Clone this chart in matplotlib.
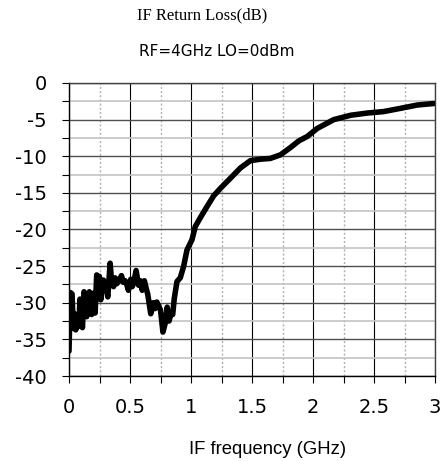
import matplotlib
matplotlib.use('Agg')
import matplotlib.pyplot as plt
from matplotlib.ticker import MultipleLocator

# IF return loss trace (GHz, dB)
freq = [0.0, 0.005, 0.01, 0.025, 0.035, 0.045, 0.055, 0.07, 0.08, 0.09, 0.1,
        0.11, 0.123, 0.135, 0.145, 0.155, 0.167, 0.178, 0.186, 0.193, 0.2, 0.207,
        0.214, 0.227, 0.24, 0.249, 0.26, 0.272, 0.282, 0.292, 0.301, 0.31, 0.318,
        0.337, 0.35, 0.365, 0.378, 0.392, 0.405, 0.418, 0.43, 0.445, 0.46, 0.475,
        0.487, 0.506, 0.518, 0.53, 0.55, 0.57, 0.585, 0.6, 0.618, 0.632, 0.645,
        0.67, 0.69, 0.705, 0.72, 0.75, 0.77, 0.79, 0.805, 0.82, 0.835, 0.85,
        0.863, 0.885, 0.912, 0.94, 0.967, 1.008, 1.035, 1.076, 1.13, 1.186, 1.24,
        1.323, 1.405, 1.487, 1.57, 1.65, 1.734, 1.816, 1.884, 1.953, 2.035, 2.17,
        2.31, 2.446, 2.58, 2.72, 2.857, 2.99]
rl_db = [-36.6, -33.0, -28.6, -28.8, -33.5, -31.5, -33.7, -32.8, -33.2, -29.5, -31.0,
         -33.4, -28.5, -29.0, -31.9, -29.0, -28.5, -31.0, -31.6, -29.5, -28.7, -30.5,
         -31.4, -26.2, -26.8, -26.4, -29.6, -27.5, -26.9, -28.0, -27.3, -28.5, -29.2,
         -24.6, -27.3, -27.8, -26.6, -27.4, -27.1, -26.7, -26.3, -27.2, -27.0, -27.6,
         -28.3, -26.8, -27.8, -27.3, -25.6, -27.6, -27.0, -28.3, -27.0, -28.0, -28.8,
         -31.5, -30.0, -30.8, -29.9, -31.0, -34.0, -32.7, -30.6, -32.5, -31.5, -31.6,
         -29.4, -27.1, -26.6, -25.0, -22.8, -21.4, -19.6, -18.4, -16.9, -15.4, -14.4,
         -13.0, -11.6, -10.6, -10.4, -10.3, -9.8, -8.8, -7.9, -7.3, -6.2, -5.0,
         -4.4, -4.1, -3.9, -3.45, -3.0, -2.8]

title = 'IF Return Loss(dB)'
subtitle = 'RF=4GHz LO=0dBm'
xlabel = 'IF frequency (GHz)'

fig = plt.figure(figsize=(4.45, 4.61), dpi=100)
ax = fig.add_axes([69 / 445, 1 - 376 / 461, 366 / 445, 293 / 461])

ax.plot(freq, rl_db, color='black', linewidth=4.0, solid_joinstyle='round',
        solid_capstyle='round', zorder=3)

ax.set_xlim(0, 3)
ax.set_ylim(-40, 0)
ax.xaxis.set_major_locator(MultipleLocator(0.5))
ax.xaxis.set_minor_locator(MultipleLocator(0.25))
ax.yaxis.set_major_locator(MultipleLocator(5))
ax.yaxis.set_minor_locator(MultipleLocator(2.5))

# grid: solid major, dotted/light minor
ax.grid(which='major', axis='x', color='black', linewidth=0.8, linestyle='-')
ax.grid(which='minor', axis='x', color='#b0b0b0', linewidth=1.0, linestyle=(0, (1.5, 1.5)))
ax.grid(which='major', axis='y', color='#505050', linewidth=1.0, linestyle='-')
ax.grid(which='minor', axis='y', color='#c4c4c4', linewidth=1.2, linestyle='-')
ax.set_axisbelow(True)

for side in ['top', 'right']:
    ax.spines[side].set_color('#404040')
    ax.spines[side].set_linewidth(1.0)
for side in ['left', 'bottom']:
    ax.spines[side].set_color('black')
    ax.spines[side].set_linewidth(1.0)

ax.tick_params(axis='y', which='both', direction='out', length=5, width=0.8,
               labelsize=14, pad=11)
ax.tick_params(axis='x', which='both', direction='out', length=5, width=0.8,
               labelsize=14, pad=11)
ax.tick_params(axis='x', which='minor', labelbottom=False)

fmt = lambda v: ('%g' % v)
ax.set_xticks([0, 0.5, 1, 1.5, 2, 2.5, 3])
ax.set_xticklabels([fmt(v) for v in [0, 0.5, 1, 1.5, 2, 2.5, 3]])
ax.set_yticks(list(range(-40, 1, 5)))
ax.set_yticklabels([fmt(v) for v in range(-40, 1, 5)])
for lab in ax.get_xticklabels() + ax.get_yticklabels():
    lab.set_family('DejaVu Sans')

fig.text(202 / 445, 1 - 15 / 461, title, ha='center', va='center',
         fontsize=12, family='Liberation Serif')
fig.text(217 / 445, 1 - 52 / 461, subtitle, ha='center', va='center',
         fontsize=11, family='DejaVu Sans')
fig.text(268 / 445, 1 - 449 / 461, xlabel, ha='center', va='center',
         fontsize=13.3, family='Liberation Sans')

fig.savefig('out.png', dpi=100)
